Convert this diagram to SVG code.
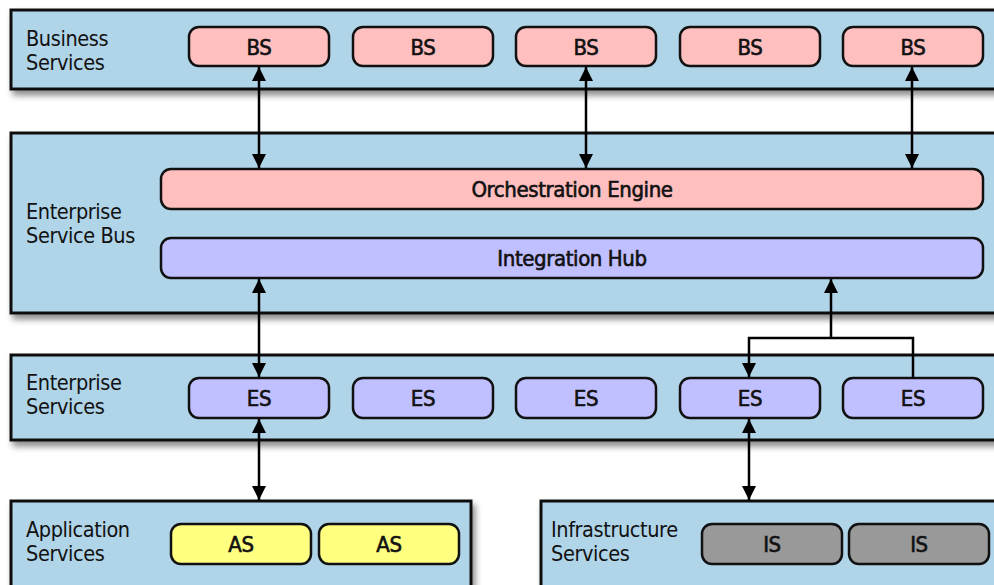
<svg xmlns="http://www.w3.org/2000/svg" width="994" height="585" viewBox="0 0 994 585">
<defs>
<filter id="sh" x="-5%" y="-10%" width="115%" height="140%">
<feDropShadow dx="3" dy="5" stdDeviation="3" flood-color="#000" flood-opacity="0.45"/>
</filter>
<marker id="ah" markerWidth="16" markerHeight="16" refX="14" refY="7" orient="auto-start-reverse" markerUnits="userSpaceOnUse">
<path d="M0,0 L14,7 L0,14 Z" fill="#000"/>
</marker>
</defs>
<style>
.band{fill:#b0d4e8;stroke:#111;stroke-width:3;filter:url(#sh)}
.box{stroke:#111;stroke-width:2.5}
.bs{fill:#ffbfbf}.es{fill:#c0bfff}.as{fill:#ffff80}.is{fill:#999}
.lbl{font-family:"DejaVu Sans Condensed","Liberation Sans",sans-serif;font-size:21.5px;letter-spacing:-0.4px;fill:#111}
.t{font-family:"DejaVu Sans Condensed","Liberation Sans",sans-serif;font-size:22px;letter-spacing:-0.4px;fill:#111;stroke:#111;stroke-width:0.6px;text-anchor:middle}
.c{fill:none;stroke:#000;stroke-width:2.5}
</style>
<g id="business-band">
<rect class="band" x="11" y="10" width="1000" height="79"/>
<text class="lbl" x="26" y="46">Business</text>
<text class="lbl" x="26" y="70">Services</text>
</g>
<g id="bs1"><rect class="box bs" x="189" y="27" width="140" height="39" rx="10"/><text class="t" x="259" y="55">BS</text></g>
<g id="bs2"><rect class="box bs" x="353" y="27" width="140" height="39" rx="10"/><text class="t" x="423" y="55">BS</text></g>
<g id="bs3"><rect class="box bs" x="516" y="27" width="140" height="39" rx="10"/><text class="t" x="586" y="55">BS</text></g>
<g id="bs4"><rect class="box bs" x="680" y="27" width="140" height="39" rx="10"/><text class="t" x="750" y="55">BS</text></g>
<g id="bs5"><rect class="box bs" x="843" y="27" width="140" height="39" rx="10"/><text class="t" x="913" y="55">BS</text></g>

<g id="esb-band">
<rect class="band" x="11" y="133" width="1000" height="180"/>
<text class="lbl" x="26" y="219">Enterprise</text>
<text class="lbl" x="26" y="243">Service Bus</text>
</g>
<g id="orchestration"><rect class="box bs" x="161" y="169" width="822" height="40" rx="10"/><text class="t" x="572" y="197">Orchestration Engine</text></g>
<g id="integration"><rect class="box es" x="161" y="238" width="822" height="40" rx="10"/><text class="t" x="572" y="266">Integration Hub</text></g>

<g id="es-band">
<rect class="band" x="11" y="355" width="1000" height="85"/>
<text class="lbl" x="26" y="390">Enterprise</text>
<text class="lbl" x="26" y="414">Services</text>
</g>
<g id="es1"><rect class="box es" x="189" y="378" width="140" height="40" rx="10"/><text class="t" x="259" y="406">ES</text></g>
<g id="es2"><rect class="box es" x="353" y="378" width="140" height="40" rx="10"/><text class="t" x="423" y="406">ES</text></g>
<g id="es3"><rect class="box es" x="516" y="378" width="140" height="40" rx="10"/><text class="t" x="586" y="406">ES</text></g>
<g id="es4"><rect class="box es" x="680" y="378" width="140" height="40" rx="10"/><text class="t" x="750" y="406">ES</text></g>
<g id="es5"><rect class="box es" x="843" y="378" width="140" height="40" rx="10"/><text class="t" x="913" y="406">ES</text></g>

<g id="app-band">
<rect class="band" x="11" y="501" width="460" height="100"/>
<text class="lbl" x="26" y="537">Application</text>
<text class="lbl" x="26" y="561">Services</text>
</g>
<g id="as1"><rect class="box as" x="171" y="524" width="140" height="40" rx="10"/><text class="t" x="241" y="552">AS</text></g>
<g id="as2"><rect class="box as" x="319" y="524" width="140" height="40" rx="10"/><text class="t" x="389" y="552">AS</text></g>

<g id="infra-band">
<rect class="band" x="541" y="501" width="470" height="100"/>
<text class="lbl" x="551" y="537">Infrastructure</text>
<text class="lbl" x="551" y="561">Services</text>
</g>
<g id="is1"><rect class="box is" x="702" y="524" width="140" height="40" rx="10"/><text class="t" x="772" y="552">IS</text></g>
<g id="is2"><rect class="box is" x="849" y="524" width="140" height="40" rx="10"/><text class="t" x="919" y="552">IS</text></g>

<g id="connectors">
<line class="c" x1="259" y1="67" x2="259" y2="168" marker-start="url(#ah)" marker-end="url(#ah)"/>
<line class="c" x1="586" y1="67" x2="586" y2="168" marker-start="url(#ah)" marker-end="url(#ah)"/>
<line class="c" x1="912" y1="67" x2="912" y2="168" marker-start="url(#ah)" marker-end="url(#ah)"/>
<line class="c" x1="259" y1="279" x2="259" y2="377" marker-start="url(#ah)" marker-end="url(#ah)"/>
<line class="c" x1="259" y1="419" x2="259" y2="500" marker-start="url(#ah)" marker-end="url(#ah)"/>
<line class="c" x1="749" y1="419" x2="749" y2="500" marker-start="url(#ah)" marker-end="url(#ah)"/>
<path class="c" d="M913,378 V338 H749 V377" marker-end="url(#ah)"/>
<path class="c" d="M831,338 V279" marker-end="url(#ah)"/>
</g>
</svg>
